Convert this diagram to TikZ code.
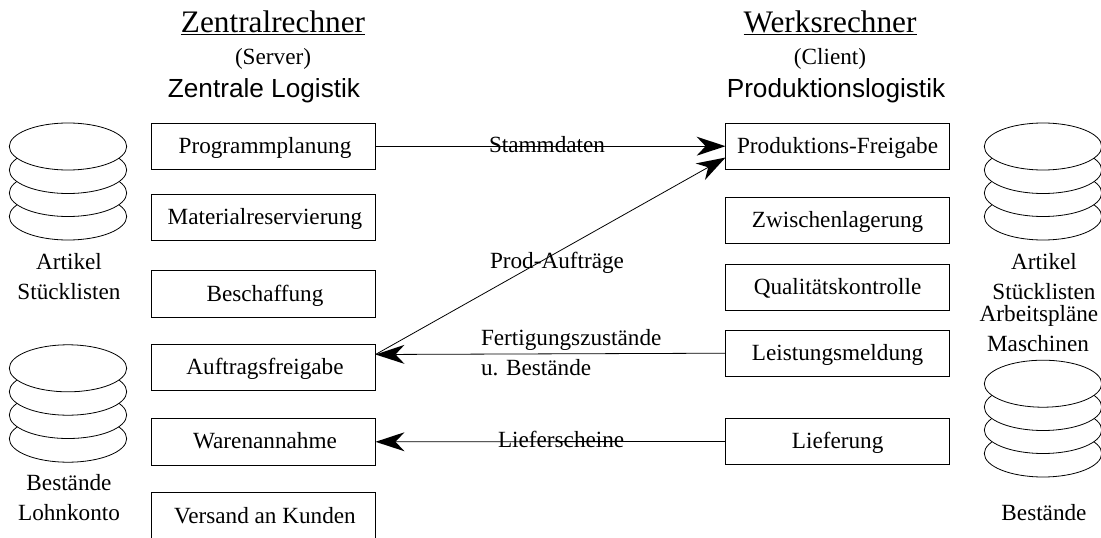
\documentclass[tikz,border=0pt]{standalone}
\usepackage{fontspec}
\setmainfont{Liberation Serif}
\newfontfamily\arialfont{Liberation Sans}
\usetikzlibrary{arrows.meta}
\tikzset{
  every node/.style={inner sep=0pt,outer sep=0pt},
  lbl/.style={font=\fontsize{23.2}{28}\selectfont,anchor=base},
  lblw/.style={font=\fontsize{23.2}{28}\selectfont,anchor=base west},
  boxn/.style={draw=black,line width=0.9pt,fill=white,minimum height=46.4pt,text height=16pt,text depth=2pt,font=\fontsize{23.2}{28}\selectfont},
  rbox/.style={boxn,minimum width=224pt},
  lbox/.style={boxn,minimum width=224pt,execute at begin node={\hspace{3pt}}},
  disk/.style={draw=black,line width=0.8pt,fill=white},
  conn/.style={draw=black,line width=0.8pt},
  uline/.style={draw=black,line width=1pt},
  tip/.style={-{Stealth[length=29pt,width=19pt,inset=9pt,line width=0pt]}},
  titletxt/.style={font=\fontsize{31.3}{36}\selectfont,anchor=base},
  logtxt/.style={font=\arialfont\fontsize{26.2}{30}\selectfont,anchor=base}
}
\begin{document}
\begin{tikzpicture}[x=1pt,y=-1pt]
\useasboundingbox (0,0) rectangle (1101,538);
\clip (0,0) rectangle (1101,538);
% titles
\node[titletxt] (t1) at (273,32) {Zentralrechner};
\draw[uline] ([yshift=-2pt]t1.base west) -- ([yshift=-2pt]t1.base east);
\node[lbl] (s1) at (273,64) {(Server)};
\node[logtxt] (l1) at (264,97) {Zentrale Logistik};
\node[titletxt] (t2) at (830,32) {Werksrechner};
\draw[uline] ([yshift=-2pt]t2.base west) -- ([yshift=-2pt]t2.base east);
\node[lbl] (s2) at (830,64) {(Client)};
\node[logtxt] (l2) at (836,97) {Produktionslogistik};
% disks
\foreach \cx/\a/\b/\c/\d in {68/216.5/193/170/146.5, 68/438.7/415/391.7/368.3, 1043/216.5/193/170/146.5, 1043/453.5/430/407/383.7}{
  \foreach \cy in {\a,\b,\c,\d}
    \draw[disk] (\cx,\cy) ellipse [x radius=58.7,y radius=23.5];
}
% left boxes
\node[lbox] (a1) at (263.5,146.2) {Programmplanung};
\node[lbox] (a2) at (263.5,217.2) {Materialreservierung};
\node[lbox] (a3) at (263.5,294) {Beschaffung};
\node[lbox] (a4) at (263.5,367.7) {Auftragsfreigabe};
\node[lbox] (a5) at (263.5,441.8) {Warenannahme};
\node[lbox] (a6) at (263.5,516) {Versand an Kunden};
% right boxes
\node[rbox] (b1) at (837.6,146.2) {Produktions-Freigabe};
\node[rbox] (b2) at (837.6,220.2) {Zwischenlagerung};
\node[rbox] (b3) at (837.6,287.7) {Qualitätskontrolle};
\node[rbox] (b4) at (837.6,353.2) {Leistungsmeldung};
\node[rbox] (b5) at (837.6,441.5) {Lieferung};
% disk labels
\node[lbl] (d1) at (69,269) {Artikel};
\node[lbl] (d2) at (69,299) {Stücklisten};
\node[lbl] (d3) at (69,490) {Bestände};
\node[lbl] (d4) at (69,520) {Lohnkonto};
\node[lbl] (d5) at (1044,269) {Artikel};
\node[lbl] (d6) at (1044,299) {Stücklisten};
\node[lbl] (d7) at (1039,321.7) {Arbeitspläne};
\node[lbl] (d8) at (1038,351.7) {Maschinen};
\node[lbl] (d9) at (1044,520) {Bestände};
% connectors
\coordinate (p1) at (a4.east|-0,354.5);
\coordinate (p2) at (b1.west|-0,157.5);
\draw[conn,tip] (a1.east) -- (b1.west);
\draw[conn,tip] (p1) -- (p2);
\draw[conn,tip] (b4.west) -- (p1);
\draw[conn,tip] (b5.west) -- (a5.east);
% connector labels
\node[lblw] (c1) at (489,152) {Stammdaten};
\node[lblw] (c2) at (490,268) {Prod-Aufträge};
\node[lblw] (c3) at (481,345) {Fertigungszustände};
\node[lblw] (c4) at (481,375) {u. Bestände};
\node[lblw] (c5) at (498,447) {Lieferscheine};
\end{tikzpicture}
\end{document}
